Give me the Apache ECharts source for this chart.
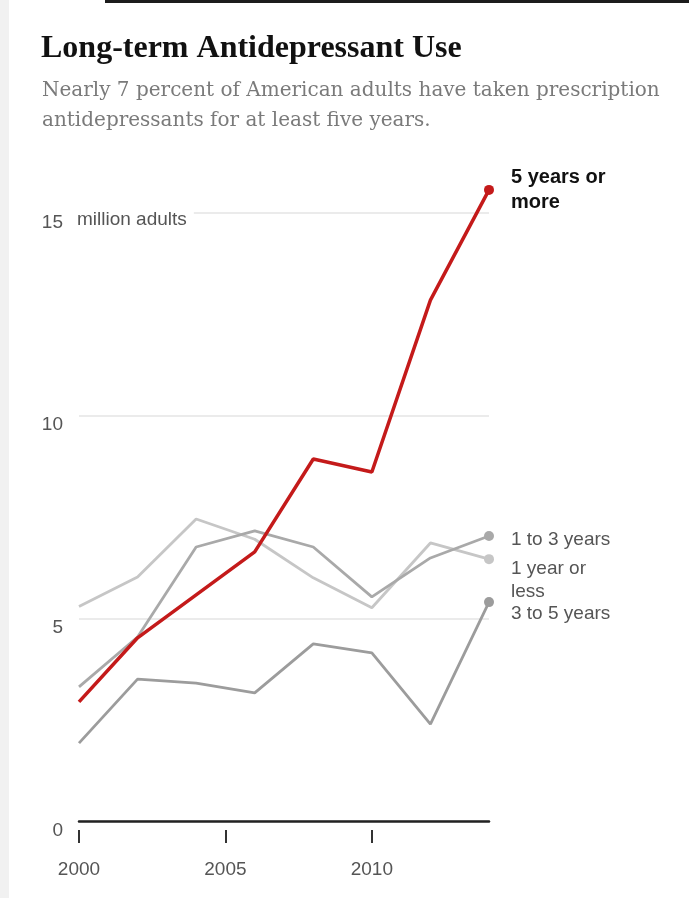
<!DOCTYPE html>
<html><head><meta charset="utf-8">
<script src="https://cdn.jsdelivr.net/npm/echarts@6/dist/echarts.min.js"></script>
<style>html,body{margin:0;padding:0;background:#fff}#c{width:689px;height:898px}</style>
</head><body><div id="c"></div>
<script>
const years = [2000, 2002, 2004, 2006, 2008, 2010, 2012, 2014];
const fivePlus    = [2.94, 4.52, 5.58, 6.64, 8.93, 8.61, 12.85, 15.57];
const oneToThree  = [3.31, 4.54, 6.76, 7.16, 6.76, 5.53, 6.49, 7.03];
const oneOrLess   = [5.29, 6.02, 7.45, 6.95, 6.00, 5.26, 6.86, 6.46];
const threeToFive = [1.92, 3.50, 3.40, 3.16, 4.37, 4.15, 2.39, 5.40];
const xTicks = [2000, 2005, 2010];
const yTicks = [0, 5, 10, 15];
const labelFive = '5 years or\nmore';
const labelOneToThree = '1 to 3 years';
const labelOneOrLess = '1 year or\nless';
const labelThreeToFive = '3 to 5 years';
const titleText = 'Long-term Antidepressant Use';
const subtitleText = 'Nearly 7 percent of American adults have taken prescription\nantidepressants for at least five years.';
const unitText = 'million adults';

const SANS = '"Liberation Sans", Arial, sans-serif';
const SERIF = '"Liberation Serif", "Times New Roman", serif';
const SERIF2 = '"DejaVu Serif", Georgia, serif';

function mk(name, vals, color, width, z, lbl) {
  const last = vals.length - 1;
  return {
    type: 'line', name: name, z: z, clip: false, showSymbol: true,
    data: years.map((y, i) => ({ value: [y, vals[i]], symbol: i === last ? 'circle' : 'none', symbolSize: 10 })),
    lineStyle: { color: color, width: width },
    itemStyle: { color: color },
    emphasis: { disabled: true },
    endLabel: Object.assign({ show: true, formatter: name, distance: 0, fontFamily: SANS }, lbl)
  };
}

const chart = echarts.init(document.getElementById('c'), null, { renderer: 'canvas' });
chart.setOption({
  animation: false,
  backgroundColor: '#fff',
  title: [
    { text: titleText, left: 36, top: 28, textStyle: { fontFamily: SERIF, fontWeight: 'bold', fontSize: 32, color: '#111' } },
    { text: subtitleText, left: 37, top: 71, textStyle: { fontFamily: SERIF2, fontWeight: 'normal', fontSize: 20, color: '#7a7a7a', lineHeight: 30 } }
  ],
  grid: { left: 79, right: 200, top: 213, bottom: 77 },
  xAxis: [
    { type: 'value', min: 2000, max: 2014, axisLine: { show: true, onZero: false, lineStyle: { color: '#222', width: 2.5 } },
      axisTick: { show: false }, axisLabel: { show: false }, splitLine: { show: false } },
    { type: 'value', min: 2000, max: 2014, position: 'bottom', offset: 9,
      axisLine: { show: false, onZero: false },
      axisTick: { show: true, inside: false, length: 13, lineStyle: { color: '#333', width: 2 }, customValues: xTicks },
      axisLabel: { customValues: xTicks, formatter: v => String(v), margin: 30, color: '#555', fontSize: 19, fontFamily: SANS },
      splitLine: { show: false } }
  ],
  yAxis: {
    type: 'value', min: 0, max: 15, interval: 5,
    axisLine: { show: false }, axisTick: { show: false },
    splitLine: { lineStyle: { color: '#e4e4e4', width: 1.5 } },
    axisLabel: { customValues: yTicks, color: '#555', fontSize: 19, fontFamily: SANS, margin: 16, verticalAlign: 'top' }
  },
  graphic: [
    { type: 'rect', shape: { x: 0, y: 0, width: 9, height: 898 }, style: { fill: '#f1f1f1' }, z: 1 },
    { type: 'rect', shape: { x: 105, y: 0, width: 584, height: 3 }, style: { fill: '#1c1c1c' }, z: 1 },
    { type: 'text', x: 74, y: 220, z: 100,
      style: { text: unitText, fill: '#555', font: '19px ' + SANS, verticalAlign: 'middle', backgroundColor: '#fff', padding: [2, 7, 2, 3] } }
  ],
  series: [
    mk(labelOneOrLess, oneOrLess, '#c6c6c6', 2.8, 2, { color: '#555', fontSize: 19, lineHeight: 23, offset: [22, 21] }),
    mk(labelOneToThree, oneToThree, '#a9a9a9', 2.8, 3, { color: '#555', fontSize: 19, lineHeight: 23, offset: [22, 4] }),
    mk(labelThreeToFive, threeToFive, '#9c9c9c', 2.8, 4, { color: '#555', fontSize: 19, lineHeight: 23, offset: [22, 12] }),
    mk(labelFive, fivePlus, '#c41a1a', 3.5, 5, { color: '#111', fontSize: 20, fontWeight: 'bold', lineHeight: 25, offset: [22, 0] })
  ]
});
</script></body></html>
